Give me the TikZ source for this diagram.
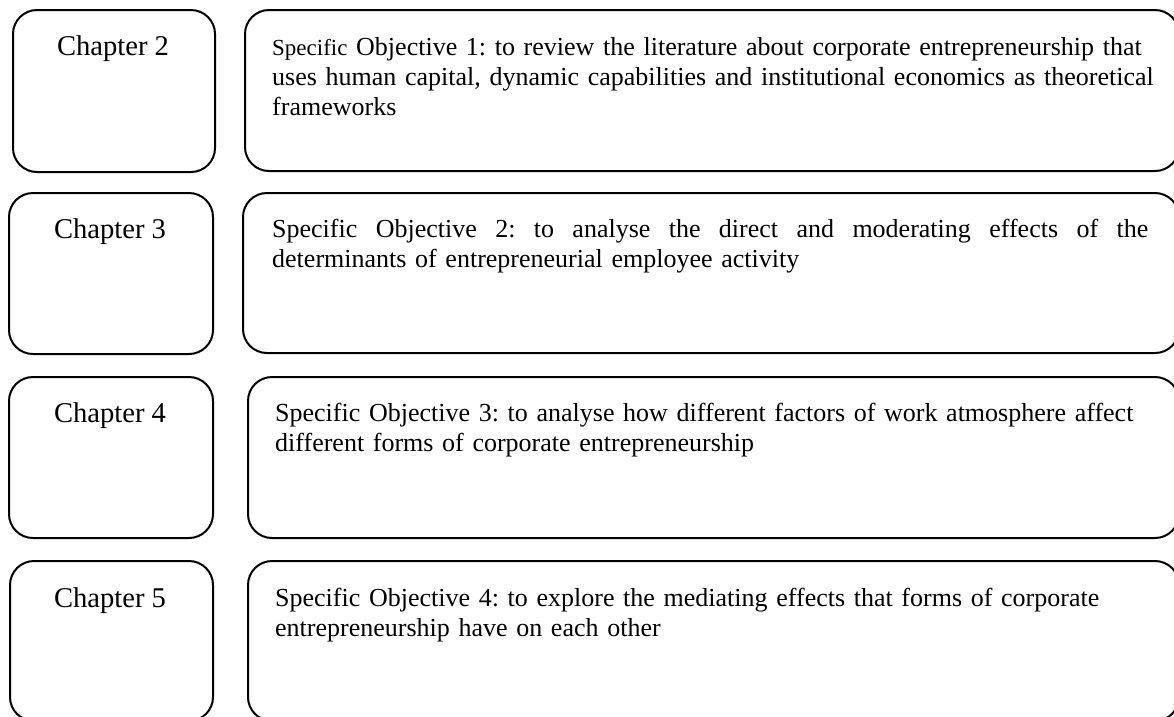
\documentclass[tikz,border=0pt]{standalone}
\usepackage{fontspec}
\setmainfont{Liberation Serif}
\begin{document}
\frenchspacing
\begin{tikzpicture}[x=1pt,y=-1pt,
  box/.style={draw=black, line width=2pt, rounded corners=24pt, inner sep=0pt, anchor=north west},
  chap/.style={font=\fontsize{28.6}{32}\selectfont, anchor=base, inner sep=0pt},
  objtext/.style={font=\fontsize{26}{30}\selectfont\frenchspacing, anchor=base west, inner sep=0pt,
                  text width=900pt, align=left}
]
\useasboundingbox (0,0) rectangle (1174,716);

% chapter boxes (left column)
\node[box, minimum width=202pt, minimum height=162pt] (c2) at (12,9) {};
\node[box, minimum width=204pt, minimum height=161pt] (c3) at (8,192) {};
\node[box, minimum width=204pt, minimum height=161pt] (c4) at (8,376) {};
\node[box, minimum width=203pt, minimum height=160pt] (c5) at (9,560) {};

% objective boxes (right column), running past the right margin
\node[box, minimum width=934pt, minimum height=161pt] (o1) at (244,9) {};
\node[box, minimum width=936pt, minimum height=160pt] (o2) at (242,192) {};
\node[box, minimum width=931pt, minimum height=161pt] (o3) at (247,376) {};
\node[box, minimum width=931pt, minimum height=160pt] (o4) at (247,560) {};

% chapter labels
\node[chap] (l2) at (113,55) {Chapter 2};
\node[chap] (l3) at (110,238) {Chapter 3};
\node[chap] (l4) at (110,422) {Chapter 4};
\node[chap] (l5) at (110,607) {Chapter 5};

% objective texts
\node[objtext] (t1) at (272,55) {{\fontsize{23}{30}\selectfont Specific} Objective 1: to review the literature about corporate entrepreneurship that\\
uses human capital, dynamic capabilities and institutional economics as theoretical\\
frameworks};
\node[objtext] (t2) at (272,237) {\hbox to 876pt{Specific\hfill Objective\hfill 2:\hfill to\hfill analyse\hfill the\hfill direct\hfill and\hfill moderating\hfill effects\hfill of\hfill the}\\
determinants of entrepreneurial employee activity};
\node[objtext] (t3) at (275,421) {Specific Objective 3: to analyse how different factors of work atmosphere affect\\
different forms of corporate entrepreneurship};
\node[objtext] (t4) at (275,606) {Specific Objective 4: to explore the mediating effects that forms of corporate\\
entrepreneurship have on each other};
\end{tikzpicture}
\end{document}
